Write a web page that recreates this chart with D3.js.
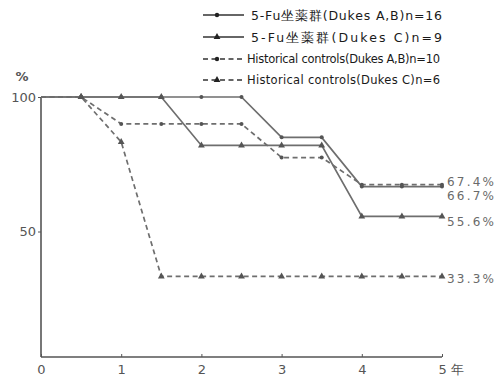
<!DOCTYPE html>
<meta charset="utf-8">
<style>
body { margin: 0; background: #fff; }
text { font-family: "DejaVu Sans", sans-serif; }
.line { fill: none; stroke: #6e6e6e; stroke-width: 1.7px; }
.dash { stroke-dasharray: 5,3.5; }
.tick-label { fill: #555; font-size: 13px; }
.end-label { fill: #6a6a6a; font-size: 12px; }
.legend text { fill: #1a1a1a; font-size: 12px; }
</style>
<script src="https://cdn.jsdelivr.net/npm/d3@7"></script>
<body>
<script>

// data (survival %, every half year)
var years   = [0, 0.5, 1, 1.5, 2, 2.5, 3, 3.5, 4, 4.5, 5];
var fuAB    = [100, 100, 100, 100, 100, 100, 85, 85, 66.7, 66.7, 66.7];
var fuC     = [100, 100, 100, 100, 82, 82, 82, 82, 55.6, 55.6, 55.6];
var histAB  = [100, 100, 90, 90, 90, 90, 77.5, 77.5, 67.4, 67.4, 67.4];
var histC   = [100, 100, 83.3, 33.3, 33.3, 33.3, 33.3, 33.3, 33.3, 33.3, 33.3];
var names   = ["5-Fu坐薬群(Dukes A,B)n=16", "5-Fu坐薬群(Dukes C)n=9",
               "Historical  controls(Dukes A,B)n=10", "Historical  controls(Dukes C)n=6"];
var endLabels = ["67.4%", "66.7%", "55.6%", "33.3%"];
var xTicks = [0, 1, 2, 3, 4, 5];
var yTicks = [50, 100];

var width = 502, height = 386;

var svg = d3.select("body").append("svg")
    .attr("width", width)
    .attr("height", height);

var x = d3.scaleLinear().domain([0, 5]).range([41, 442]);
var y = d3.scaleLinear().domain([0, 100]).range([366, 97]);
var baseY = 357;

var series = [
  { vals: fuAB,   dashed: false, mark: "circle" },
  { vals: fuC,    dashed: false, mark: "tri" },
  { vals: histAB, dashed: true,  mark: "circle" },
  { vals: histC,  dashed: true,  mark: "tri" }
];

// axes
svg.append("line")
  .attr("x1", x(0)).attr("x2", x(0))
  .attr("y1", y(100)).attr("y2", baseY)
  .attr("stroke", "#555").attr("stroke-width", 1.6);
svg.append("line")
  .attr("x1", x(0)).attr("x2", x(5))
  .attr("y1", baseY).attr("y2", baseY)
  .attr("stroke", "#555").attr("stroke-width", 1.6);

var xAxis = svg.append("g")
    .attr("transform", "translate(0," + baseY + ")")
    .call(d3.axisBottom(x).tickValues(xTicks).tickSize(-3).tickFormat(d3.format("d")));
xAxis.select(".domain").remove();
xAxis.selectAll("line").attr("stroke", "#555");
xAxis.selectAll("text").attr("class", "tick-label").attr("dy", "1.05em").style("font-size", null);
xAxis.selectAll(".tick").filter(function (d) { return d === 5; })
  .select("text").text("5 年").attr("text-anchor", "start").attr("dx", -4);

var yAxis = svg.append("g")
    .attr("transform", "translate(" + x(0) + ",0)")
    .call(d3.axisLeft(y).tickValues(yTicks).tickSize(3).tickPadding(2));
yAxis.select(".domain").remove();
yAxis.selectAll("line").attr("stroke", "#555");
yAxis.selectAll("text").attr("class", "tick-label").style("font-size", null);

svg.append("text").attr("class", "tick-label")
  .attr("x", 22).attr("y", 81).attr("text-anchor", "middle")
  .style("font-weight", "bold").text("%");

// lines
var line = d3.line()
  .x(function (d, i) { return x(years[i]); })
  .y(function (d) { return y(d); });

var tri = d3.symbol().type(d3.symbolTriangle).size(20);

series.forEach(function (s) {
  svg.append("path")
    .attr("class", s.dashed ? "line dash" : "line")
    .attr("d", line(s.vals));

  var pts = svg.selectAll(null)
    .data(s.vals.slice(1))
    .enter();
  if (s.mark === "circle") {
    pts.append("circle")
      .attr("cx", function (d, i) { return x(years[i + 1]); })
      .attr("cy", function (d) { return y(d); })
      .attr("r", 2)
      .attr("fill", "#555");
  } else {
    pts.append("path")
      .attr("d", tri)
      .attr("transform", function (d, i) { return "translate(" + x(years[i + 1]) + "," + y(d) + ")"; })
      .attr("fill", "#555");
  }
});

// end labels
var endVals = [histAB[10], fuAB[10], fuC[10], histC[10]];
var nudge = [-3, 9, 5, 2];
svg.selectAll(".end-label")
  .data(endLabels)
  .enter().append("text")
    .attr("class", "end-label")
    .attr("x", 447)
    .attr("y", function (d, i) { return y(endVals[i]) + nudge[i]; })
    .attr("dy", "0.35em")
    .attr("textLength", 47)
    .attr("lengthAdjust", "spacing")
    .text(function (d) { return d; });

// legend
var legend = svg.append("g").attr("class", "legend");
var rowY = [15, 37, 59, 80];
names.forEach(function (n, i) {
  var s = series[i];
  var g = legend.append("g").attr("transform", "translate(0," + rowY[i] + ")");
  g.append("line")
    .attr("x1", 203).attr("x2", 244)
    .attr("y1", 0).attr("y2", 0)
    .attr("stroke", "#333").attr("stroke-width", 1.6)
    .attr("stroke-dasharray", s.dashed ? "5,3.5" : null);
  if (s.mark === "circle") {
    g.append("circle").attr("cx", 217).attr("cy", 0).attr("r", 2.2).attr("fill", "#222");
  } else {
    g.append("path").attr("d", tri).attr("transform", "translate(217,0)").attr("fill", "#222");
  }
  g.append("text")
    .attr("x", s.dashed ? 247 : 251)
    .attr("y", 0)
    .attr("dy", "0.38em")
    .style("font-size", s.dashed ? "11.5px" : "12.5px")
    .attr("textLength", s.dashed ? 193 : 191)
    .attr("lengthAdjust", "spacing")
    .text(n);
});

</script>
</body>
